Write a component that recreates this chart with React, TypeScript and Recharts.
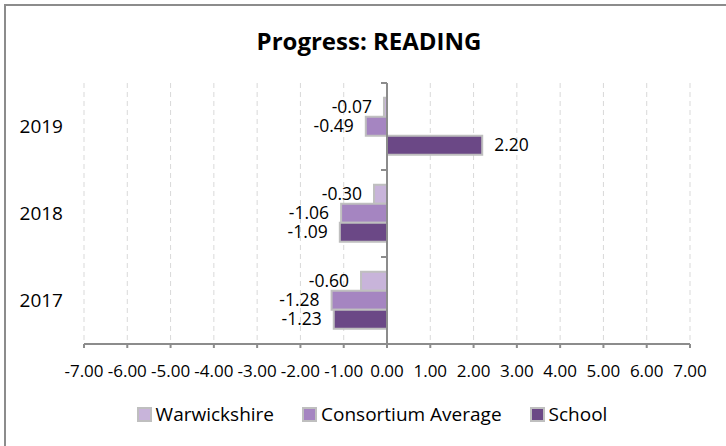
import React from 'react';
import { BarChart, Bar, XAxis, YAxis, CartesianGrid, Legend, LabelList, ReferenceLine } from 'recharts';

const years = ['2019', '2018', '2017'];
const warwickshire = [-0.07, -0.3, -0.6];
const consortium = [-0.49, -1.06, -1.28];
const school = [2.2, -1.09, -1.23];
const xTicks = [-7, -6, -5, -4, -3, -2, -1, 0, 1, 2, 3, 4, 5, 6, 7];

const series = [
  { key: 'warwickshire', name: 'Warwickshire', color: '#c8b4da' },
  { key: 'consortium', name: 'Consortium Average', color: '#a585c1' },
  { key: 'school', name: 'School', color: '#6b4886' },
];

const data = years.map((year, i) => ({
  year,
  warwickshire: warwickshire[i],
  consortium: consortium[i],
  school: school[i],
}));

const FONT = '"Open Sans", "Noto Sans", sans-serif';
const AXIS = '#8c8c8c';

// value labels sit outside the bar end, like Excel's "outside end"
const ValueLabel: React.FC<any> = ({ x, y, width, height, value }) => {
  const end = x + width;
  const neg = value < 0;
  return (
    <text
      x={neg ? end - 12 : end + 12}
      y={y + height / 2}
      dy="0.35em"
      textAnchor={neg ? 'end' : 'start'}
      fontSize={17.5}
      fontFamily={FONT}
      fill="#000"
    >
      {value.toFixed(2)}
    </text>
  );
};

// vertical axis drawn at zero, with tick marks between the categories
const ZeroAxis: React.FC<any> = (props) => {
  const { x1, y1, x2, y2 } = props;
  if (typeof x1 !== 'number') return null;
  const top = Math.min(y1, y2);
  const bottom = Math.max(y1, y2);
  const step = (bottom - top) / years.length;
  const marks = years.map((_, i) => top + i * step);
  return (
    <g>
      <line x1={x1} y1={top} x2={x2} y2={bottom} stroke={AXIS} strokeWidth={2} />
      {marks.map((my, i) => (
        <line key={i} x1={x1 - 6} y1={my} x2={x1} y2={my} stroke={AXIS} strokeWidth={2} />
      ))}
    </g>
  );
};

// legend keeps the series order (Recharts would sort it by name)
const LegendContent: React.FC<any> = () => (
  <div
    style={{
      height: 60,
      paddingLeft: 54,
      display: 'flex',
      justifyContent: 'center',
      alignItems: 'center',
      fontFamily: FONT,
      fontSize: 19,
      color: '#000',
    }}
  >
    {series.map((s) => (
      <div key={s.key} style={{ display: 'flex', alignItems: 'center', margin: '0 14px' }}>
        <span
          style={{
            display: 'inline-block',
            width: 11,
            height: 11,
            background: s.color,
            border: '2px solid #bfbfbf',
            marginRight: 4,
          }}
        />
        <span>{s.name}</span>
      </div>
    ))}
  </div>
);

export default function App() {
  return (
    <div style={{ position: 'absolute', left: 0, top: 0, width: 726, height: 446, background: '#fff', overflow: 'hidden' }}>
      <div
        style={{
          position: 'absolute',
          left: 4,
          top: 4,
          width: 740,
          height: 460,
          border: '2px solid #8c8c8c',
        }}
      />
      <div
        style={{
          position: 'absolute',
          top: 24,
          left: 0,
          width: 738,
          textAlign: 'center',
          fontFamily: FONT,
          fontWeight: 700,
          fontSize: 24,
          color: '#000',
        }}
      >
        Progress: READING
      </div>
      <div style={{ position: 'absolute', left: 0, top: 0 }}>
        <BarChart
          width={726}
          height={446}
          data={data}
          layout="vertical"
          margin={{ top: 83, right: 36, left: 0, bottom: 2 }}
          barCategoryGap="17%"
          barGap={0}
        >
          <CartesianGrid horizontal={false} stroke="#d9d9d9" strokeDasharray="5 4" />
          <XAxis
            type="number"
            domain={[-7, 7]}
            ticks={xTicks}
            interval={0}
            tickFormatter={(v: number) => v.toFixed(2)}
            axisLine={{ stroke: AXIS, strokeWidth: 2 }}
            tickLine={{ stroke: AXIS, strokeWidth: 2 }}
            tickSize={4}
            tickMargin={17}
            height={40}
            tick={{ fill: '#000', fontSize: 17, fontFamily: FONT }}
          />
          <YAxis
            type="category"
            dataKey="year"
            width={84}
            axisLine={false}
            tickLine={false}
            tickMargin={15}
            tick={{ fill: '#000', fontSize: 19, fontFamily: FONT }}
          />
          <Legend verticalAlign="bottom" content={<LegendContent />} />
          {series.map((s) => (
            <Bar
              key={s.key}
              dataKey={s.key}
              name={s.name}
              fill={s.color}
              stroke="#bfbfbf"
              strokeWidth={2}
              isAnimationActive={false}
            >
              <LabelList dataKey={s.key} content={<ValueLabel />} />
            </Bar>
          ))}
          <ReferenceLine x={0} stroke={AXIS} strokeWidth={2} shape={<ZeroAxis />} />
        </BarChart>
      </div>
    </div>
  );
}
